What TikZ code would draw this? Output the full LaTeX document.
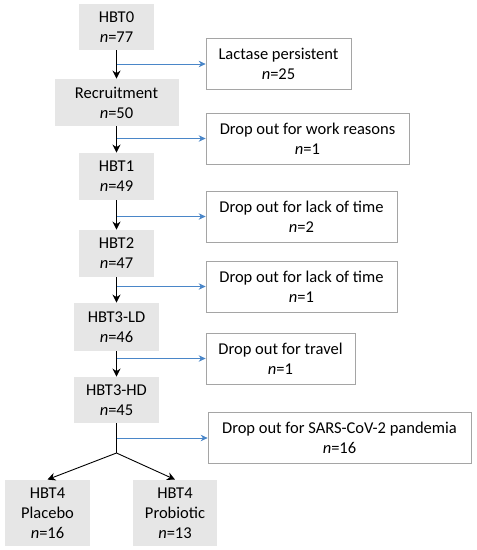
\documentclass[tikz,border=0pt]{standalone}
\usepackage{fontspec}
\setmainfont{Carlito}
\usetikzlibrary{arrows.meta}
\definecolor{boxgray}{RGB}{230,230,230}
\definecolor{edgegray}{RGB}{165,165,165}
\definecolor{dropblue}{RGB}{74,134,200}
\begin{document}
\begin{tikzpicture}[>={Stealth[length=8pt,width=8pt]},x=1pt,y=-1pt,line width=0.9pt,
    stage/.style={fill=boxgray,align=center,inner sep=0pt,font=\fontsize{16.5}{20}\selectfont},
    drop/.style={draw=edgegray,line width=0.7pt,fill=white,align=center,inner sep=0pt,minimum height=51,font=\fontsize{16.5}{20}\selectfont},
    side/.style={-{Stealth[length=7pt,width=6.5pt]},dropblue,line width=0.8pt}]
    \useasboundingbox (0,0) rectangle (477,550);
    \node[stage,minimum width=75,minimum height=46] (hbt0) at (116.5,27) {HBT0\\\textit{n}=77};
    \node[stage,minimum width=124,minimum height=47] (recr) at (116.5,102.5) {Recruitment\\\textit{n}=50};
    \node[stage,minimum width=75,minimum height=47] (hbt1) at (116.5,176.5) {HBT1\\\textit{n}=49};
    \node[stage,minimum width=75,minimum height=47] (hbt2) at (116.5,253.5) {HBT2\\\textit{n}=47};
    \node[stage,minimum width=85,minimum height=48] (hbtld) at (116.5,327) {HBT3-LD\\\textit{n}=46};
    \node[stage,minimum width=85,minimum height=46] (hbthd) at (116.5,400) {HBT3-HD\\\textit{n}=45};
    \node[stage,minimum width=85,minimum height=66] (placebo) at (47.5,513) {HBT4\\Placebo\\\textit{n}=16};
    \node[stage,minimum width=84,minimum height=66] (probiotic) at (175,513) {HBT4\\Probiotic\\\textit{n}=13};
    \node[drop,minimum width=145] (lactase) at (278.5,64) {Lactase persistent\\\textit{n}=25};
    \node[drop,minimum width=203] (work) at (307.5,138.5) {Drop out for work reasons\\\textit{n}=1};
    \node[drop,minimum width=191] (timea) at (301.5,216.5) {Drop out for lack of time\\\textit{n}=2};
    \node[drop,minimum width=191] (timeb) at (301.5,286.5) {Drop out for lack of time\\\textit{n}=1};
    \node[drop,minimum width=149] (travel) at (280.5,358.5) {Drop out for travel\\\textit{n}=1};
    \node[drop,minimum width=263] (sars) at (339.5,438) {Drop out for SARS-CoV-2 pandemia\\\textit{n}=16};
    \draw[->] (hbt0.south) -- (recr.north);
    \draw[->] (recr.south) -- (hbt1.north);
    \draw[->] (hbt1.south) -- (hbt2.north);
    \draw[->] (hbt2.south) -- (hbtld.north);
    \draw[->] (hbtld.south) -- (hbthd.north);
    \coordinate (fork) at (116.5,453);
    \draw (hbthd.south) -- (fork);
    \draw[->] (fork) -- (placebo.north);
    \draw[->] (fork) -- (probiotic.north);
    \draw[side] (hbt0.south |- lactase.west) -- (lactase.west);
    \draw[side] (recr.south |- work.west) -- (work.west);
    \draw[side] (hbt1.south |- timea.west) -- (timea.west);
    \draw[side] (hbt2.south |- timeb.west) -- (timeb.west);
    \draw[side] (hbtld.south |- travel.west) -- (travel.west);
    \draw[side] (hbthd.south |- sars.west) -- (sars.west);
\end{tikzpicture}
\end{document}
